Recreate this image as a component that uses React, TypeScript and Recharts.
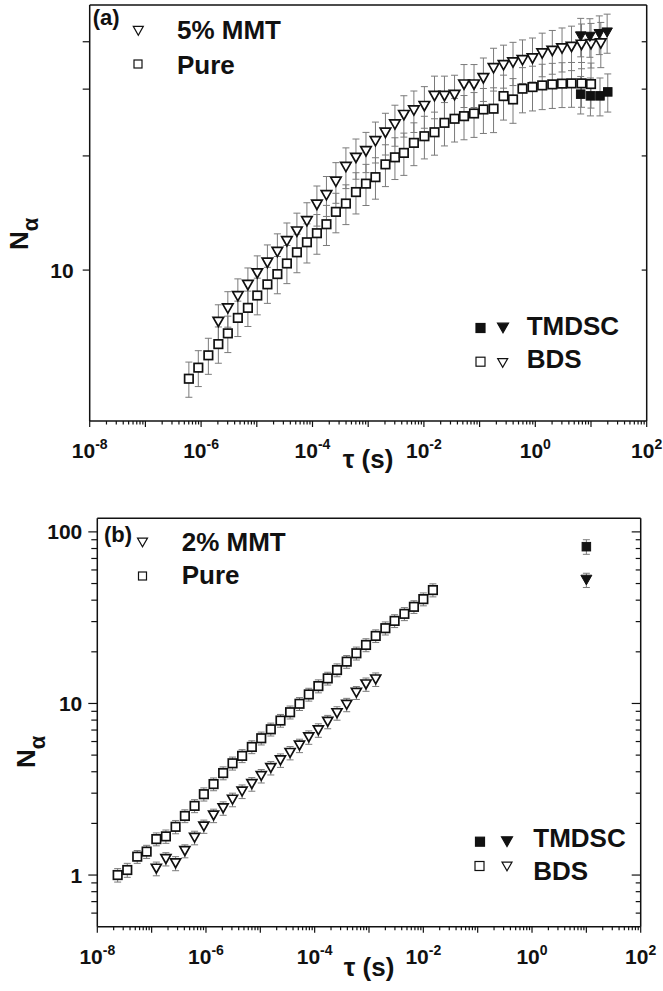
import React from "react";
import { ScatterChart, Scatter, XAxis, YAxis, ErrorBar } from "recharts";

const FONT = "'Liberation Sans', Arial, Helvetica, sans-serif";
const INK = "#111";
const BAR = "#7a7a7a";

// x axis, both panels: tau (s) on a log scale
const X_DOMAIN = [1e-8, 1e2];
const xDecades = [1e-8, 1e-7, 1e-6, 1e-5, 1e-4, 1e-3, 1e-2, 1e-1, 1, 10, 100];
const xLabelled = [1e-8, 1e-6, 1e-4, 1e-2, 1, 100];

// y axes
const yTicksA = [10, 20, 30, 40];
const yLabelsA = [10];
const yTicksB = [0.6, 0.7, 0.8, 0.9, 1, 2, 3, 4, 5, 6, 7, 8, 9, 10, 20, 30, 40, 50, 60, 70, 80, 90, 100];
const yLabelsB = [1, 10, 100];

// (a) pure, BDS
const tauPureA = [6.03e-7, 8.91e-7, 1.35e-6, 2.04e-6, 3.02e-6, 4.57e-6, 6.92e-6, 1.02e-5, 1.55e-5, 2.34e-5, 3.47e-5, 5.25e-5, 7.94e-5, 1.2e-4, 1.78e-4, 2.63e-4, 3.98e-4, 6.03e-4, 9.12e-4, 1.35e-3, 2.04e-3, 3.02e-3, 4.37e-3, 6.61e-3, 1.02e-2, 1.55e-2, 2.34e-2, 3.55e-2, 5.25e-2, 7.94e-2, 0.117, 0.178, 0.269, 0.398, 0.589, 0.891, 1.33, 2.02, 3.02, 4.47, 6.76, 10.0];
const nPureA = [5.17, 5.53, 5.96, 6.38, 6.81, 7.48, 7.95, 8.57, 9.17, 9.76, 10.41, 11.14, 11.84, 12.51, 13.21, 14.24, 14.98, 16.06, 16.9, 17.58, 19.0, 19.83, 20.37, 21.65, 22.54, 23.09, 24.45, 25.06, 25.46, 25.88, 26.52, 26.64, 28.76, 28.18, 30.08, 30.38, 30.69, 30.88, 31.02, 31.07, 31.07, 30.94];
const errPureA = [0.55, 0.6, 0.65, 0.7, 0.75, 0.8, 0.85, 0.95, 1.0, 1.1, 1.2, 1.3, 1.4, 1.5, 1.6, 1.7, 1.8, 2.0, 2.1, 2.2, 2.4, 2.5, 2.6, 2.8, 2.9, 3.0, 3.2, 3.3, 3.4, 3.5, 3.6, 3.6, 3.9, 3.8, 4.1, 4.1, 4.2, 4.2, 4.2, 4.2, 4.2, 4.2];

// (a) 5% MMT, BDS
const tauMmtA = [2.04e-6, 3.02e-6, 4.57e-6, 6.92e-6, 1.02e-5, 1.55e-5, 2.34e-5, 3.47e-5, 5.25e-5, 7.94e-5, 1.2e-4, 1.78e-4, 2.63e-4, 3.98e-4, 6.03e-4, 9.12e-4, 1.35e-3, 2.04e-3, 3.02e-3, 4.37e-3, 6.61e-3, 1.02e-2, 1.55e-2, 2.34e-2, 3.55e-2, 5.25e-2, 7.94e-2, 0.117, 0.178, 0.269, 0.398, 0.589, 0.891, 1.33, 2.02, 3.02, 4.47, 6.76, 10.0, 15.0];
const nMmtA = [7.3, 7.92, 8.53, 9.13, 9.8, 10.45, 11.16, 11.91, 12.63, 13.45, 14.86, 15.75, 17.1, 18.7, 19.76, 20.57, 21.86, 23.01, 24.21, 25.62, 26.36, 27.06, 28.76, 28.76, 28.94, 30.83, 30.83, 32.04, 34.05, 34.68, 35.26, 35.75, 36.12, 37.24, 37.84, 38.39, 38.77, 39.25, 39.41, 39.58];
const errMmtA = [0.8, 0.85, 0.95, 1.0, 1.1, 1.2, 1.3, 1.4, 1.5, 1.6, 1.8, 1.9, 2.1, 2.3, 2.4, 2.5, 2.7, 2.9, 3.0, 3.2, 3.3, 3.4, 3.7, 3.7, 3.7, 4.0, 4.0, 4.2, 4.4, 4.5, 4.6, 4.7, 4.8, 4.9, 5.0, 5.1, 5.2, 5.3, 5.3, 5.4];

// (a) TMDSC
const tauPureTmA = [6.53, 9.77, 14.5, 20.0];
const nPureTmA = [29.1, 28.8, 28.8, 29.5];
const errPureTmA = [3.3, 3.3, 3.3, 3.4];
const tauMmtTmA = [6.53, 9.55, 14.1, 19.5];
const nMmtTmA = [41.3, 41.2, 41.9, 42.3];
const errMmtTmA = [4.8, 4.8, 4.9, 5.0];

// (b) pure, BDS
const tauPureB = [2.37e-8, 3.56e-8, 5.43e-8, 8.09e-8, 1.22e-7, 1.83e-7, 2.76e-7, 4.09e-7, 6.17e-7, 9.14e-7, 1.38e-6, 2.07e-6, 3.08e-6, 4.62e-6, 6.98e-6, 1.04e-5, 1.56e-5, 2.35e-5, 3.53e-5, 5.26e-5, 7.8e-5, 1.17e-4, 1.74e-4, 2.58e-4, 3.89e-4, 5.86e-4, 8.81e-4, 1.33e-3, 2.0e-3, 2.96e-3, 4.48e-3, 6.71e-3, 1.0e-2, 1.5e-2];
const nPureB = [1.0, 1.07, 1.28, 1.37, 1.62, 1.68, 1.91, 2.21, 2.53, 2.96, 3.39, 3.93, 4.48, 4.95, 5.58, 6.27, 7.07, 7.95, 8.89, 9.96, 11.29, 12.63, 14.0, 15.66, 17.53, 19.61, 21.93, 24.75, 27.46, 30.29, 33.29, 36.58, 40.57, 45.8];
const errPureB = [0.09, 0.1, 0.11, 0.12, 0.14, 0.15, 0.17, 0.19, 0.22, 0.26, 0.29, 0.34, 0.39, 0.43, 0.48, 0.54, 0.61, 0.68, 0.77, 0.86, 0.97, 1.1, 1.2, 1.35, 1.5, 1.7, 1.9, 2.1, 2.4, 2.6, 2.9, 3.1, 3.5, 4.0];

// (b) 2% MMT, BDS
const tauMmtB = [1.22e-7, 1.83e-7, 2.76e-7, 4.09e-7, 6.17e-7, 9.14e-7, 1.38e-6, 2.07e-6, 3.08e-6, 4.62e-6, 6.98e-6, 1.04e-5, 1.56e-5, 2.35e-5, 3.53e-5, 5.26e-5, 7.8e-5, 1.17e-4, 1.74e-4, 2.58e-4, 3.89e-4, 5.86e-4, 8.81e-4, 1.33e-3];
const nMmtB = [1.09, 1.24, 1.17, 1.38, 1.65, 1.92, 2.22, 2.45, 2.75, 3.07, 3.39, 3.78, 4.21, 4.66, 5.15, 5.68, 6.35, 6.98, 7.82, 8.78, 9.83, 11.55, 12.92, 13.81];
const errMmtB = [0.1, 0.11, 0.11, 0.12, 0.15, 0.17, 0.2, 0.22, 0.25, 0.28, 0.31, 0.34, 0.38, 0.42, 0.46, 0.51, 0.57, 0.63, 0.7, 0.79, 0.88, 1.0, 1.15, 1.25];

// (b) TMDSC
const tauPureTmB = [10];
const nPureTmB = [82];
const errPureTmB = [8];
const tauMmtTmB = [10];
const nMmtTmB = [52.4];
const errMmtTmB = [5];

const zip = (t: number[], n: number[], e: number[]) => t.map((tau, i) => ({ tau, n: n[i], err: e[i] }));

const near = (v: number, list: number[]) => list.some((d) => Math.abs(v / d - 1) < 1e-6);

const xTicks = xDecades.flatMap((d, i) =>
  i === xDecades.length - 1 ? [d] : [d, d * 2, d * 3, d * 4, d * 5, d * 6, d * 7, d * 8, d * 9]
);

const axisLine = { stroke: INK, strokeWidth: 1.5 };

const makeXTick = (withLabel: boolean) => (p: any) => {
  const v = p.payload.value;
  const major = near(v, xDecades);
  const exp = Math.round(Math.log10(v));
  return (
    <g>
      <line x1={p.x} x2={p.x} y1={p.y} y2={p.y + (major ? 6 : 3.5)} stroke={INK} strokeWidth={1.2} />
      {withLabel && near(v, xLabelled) && (
        <text x={p.x} y={p.y + 37} textAnchor="middle" fontFamily={FONT} fontWeight={700} fontSize={21} fill={INK}>
          10<tspan dy={-9} fontSize={14}>{String(exp)}</tspan>
        </text>
      )}
    </g>
  );
};

const makeYTick = (labels: number[] | null, majors: number[], majorLen: number, minorLen: number, gap: number) => (p: any) => {
  const v = p.payload.value;
  const len = near(v, majors) ? majorLen : minorLen;
  return (
    <g>
      <line x1={p.x} x2={p.x - len} y1={p.y} y2={p.y} stroke={INK} strokeWidth={1.2} />
      {labels && near(v, labels) && (
        <text x={p.x - gap} y={p.y} dy="0.36em" textAnchor="end" fontFamily={FONT} fontWeight={700} fontSize={21} fill={INK}>
          {String(v)}
        </text>
      )}
    </g>
  );
};

const openSquare = (s: number) => (p: any) => (
  <rect x={p.cx - s / 2} y={p.cy - s / 2} width={s} height={s} fill="#fff" stroke={INK} strokeWidth={1.7} />
);
const filledSquare = (s: number) => (p: any) => (
  <rect x={p.cx - s / 2} y={p.cy - s / 2} width={s} height={s} fill={INK} stroke={INK} strokeWidth={1} />
);
const triPath = (x: number, y: number, w: number) => {
  const h = w * 0.88;
  return `M${x - w / 2},${y - h / 2}L${x + w / 2},${y - h / 2}L${x},${y + h / 2}Z`;
};
const openTri = (w: number) => (p: any) => (
  <path d={triPath(p.cx, p.cy, w)} fill="#fff" stroke={INK} strokeWidth={1.7} strokeLinejoin="miter" />
);
const filledTri = (w: number) => (p: any) => (
  <path d={triPath(p.cx, p.cy, w)} fill={INK} stroke={INK} strokeWidth={1} />
);

const errBar = <ErrorBar dataKey="err" direction="y" width={3.5} stroke={BAR} strokeWidth={1} />;

const txt = { fontFamily: FONT, fontWeight: 700, fill: INK } as const;

const LegendSq = ({ x, y, s, filled }: any) => (
  <rect x={x - s / 2} y={y - s / 2} width={s} height={s} fill={filled ? INK : "#fff"} stroke={INK} strokeWidth={1.2} />
);
const LegendTri = ({ x, y, w, filled }: any) => (
  <path d={triPath(x, y, w)} fill={filled ? INK : "#fff"} stroke={INK} strokeWidth={1.2} />
);

export default function App() {
  return (
    <div style={{ position: "absolute", left: 0, top: 0, width: 663, height: 991, background: "#fff" }}>
      <div style={{ position: "absolute", left: 0, top: 0 }}>
        <ScatterChart width={663} height={480} margin={{ top: 0, right: 0, bottom: 0, left: 0 }}>
          <XAxis dataKey="tau" type="number" scale="log" domain={X_DOMAIN} allowDataOverflow ticks={xTicks} interval={0}
            tickSize={0} tickMargin={0} tick={makeXTick(true)} height={59} axisLine={axisLine} />
          <XAxis xAxisId="top" orientation="top" type="number" scale="log" domain={X_DOMAIN} allowDataOverflow ticks={xTicks}
            interval={0} tickSize={0} tickMargin={0} tick={makeXTick(false)} height={5} axisLine={axisLine} />
          <YAxis dataKey="n" type="number" scale="log" domain={[4, 50]} allowDataOverflow ticks={yTicksA} interval={0}
            tickSize={0} tickMargin={0} tick={makeYTick(yLabelsA, yTicksA, 7, 7, 16)} width={89.7} axisLine={axisLine} />
          <YAxis yAxisId="right" orientation="right" type="number" scale="log" domain={[4, 50]} allowDataOverflow ticks={yTicksA}
            interval={0} tickSize={0} tickMargin={0} tick={makeYTick(null, yTicksA, 5, 5, 0)} width={16.3} axisLine={axisLine} />
          <Scatter data={zip(tauPureA, nPureA, errPureA)} shape={openSquare(8.5)} isAnimationActive={false}>{errBar}</Scatter>
          <Scatter data={zip(tauMmtA, nMmtA, errMmtA)} shape={openTri(10.5)} isAnimationActive={false}>{errBar}</Scatter>
          <Scatter data={zip(tauPureTmA, nPureTmA, errPureTmA)} shape={filledSquare(8.5)} isAnimationActive={false}>{errBar}</Scatter>
          <Scatter data={zip(tauMmtTmA, nMmtTmA, errMmtTmA)} shape={filledTri(10.5)} isAnimationActive={false}>{errBar}</Scatter>
        </ScatterChart>
      </div>

      <div style={{ position: "absolute", left: 0, top: 480 }}>
        <ScatterChart width={663} height={511} margin={{ top: 0, right: 0, bottom: 0, left: 0 }}>
          <XAxis dataKey="tau" type="number" scale="log" domain={X_DOMAIN} allowDataOverflow ticks={xTicks} interval={0}
            tickSize={0} tickMargin={0} tick={makeXTick(true)} height={64.3} axisLine={axisLine} />
          <XAxis xAxisId="top" orientation="top" type="number" scale="log" domain={X_DOMAIN} allowDataOverflow ticks={xTicks}
            interval={0} tickSize={0} tickMargin={0} tick={makeXTick(false)} height={38.3} axisLine={axisLine} />
          <YAxis dataKey="n" type="number" scale="log" domain={[0.5, 120]} allowDataOverflow ticks={yTicksB} interval={0}
            tickSize={0} tickMargin={0} tick={makeYTick(yLabelsB, yLabelsB, 9, 6, 15)} width={97.3} axisLine={axisLine} />
          <YAxis yAxisId="right" orientation="right" type="number" scale="log" domain={[0.5, 120]} allowDataOverflow ticks={yTicksB}
            interval={0} tickSize={0} tickMargin={0} tick={makeYTick(null, yLabelsB, 9, 5, 0)} width={22.3} axisLine={axisLine} />
          <Scatter data={zip(tauPureB, nPureB, errPureB)} shape={openSquare(8.5)} isAnimationActive={false}>{errBar}</Scatter>
          <Scatter data={zip(tauMmtB, nMmtB, errMmtB)} shape={openTri(10)} isAnimationActive={false}>{errBar}</Scatter>
          <Scatter data={zip(tauPureTmB, nPureTmB, errPureTmB)} shape={filledSquare(8.5)} isAnimationActive={false}>{errBar}</Scatter>
          <Scatter data={zip(tauMmtTmB, nMmtTmB, errMmtTmB)} shape={filledTri(11)} isAnimationActive={false}>{errBar}</Scatter>
        </ScatterChart>
      </div>

      <svg width={663} height={991} style={{ position: "absolute", left: 0, top: 0, pointerEvents: "none" }}>
        {/* panel (a) */}
        <text x={92.7} y={25} fontSize={22} {...txt}>(a)</text>
        <LegendTri x={138.3} y={30.8} w={10} />
        <text x={177} y={38.5} fontSize={26} {...txt}>5% MMT</text>
        <LegendSq x={138} y={64} s={8} />
        <text x={177} y={73.5} fontSize={26} {...txt}>Pure</text>
        <LegendSq x={480.5} y={328} s={9} filled />
        <LegendTri x={503} y={328} w={11} filled />
        <text x={526.7} y={335} fontSize={26} {...txt}>TMDSC</text>
        <LegendSq x={480.5} y={361.7} s={9} />
        <LegendTri x={502.7} y={363} w={10} />
        <text x={526.7} y={368} fontSize={26} {...txt}>BDS</text>
        <text x={368} y={468} fontSize={26} textAnchor="middle" {...txt}>τ (s)</text>
        <text x={28} y={250} fontSize={26} transform="rotate(-90, 28, 250)" {...txt}>
          N<tspan dy={10} fontSize={22}>α</tspan>
        </text>

        {/* panel (b) */}
        <text x={104} y={542} fontSize={22} {...txt}>(b)</text>
        <LegendTri x={142.5} y={542.5} w={10} />
        <text x={181.7} y={551} fontSize={26} {...txt}>2% MMT</text>
        <LegendSq x={142.5} y={576} s={8} />
        <text x={181.7} y={583.5} fontSize={26} {...txt}>Pure</text>
        <LegendSq x={480} y={841.7} s={9} filled />
        <LegendTri x={507} y={841.7} w={11} filled />
        <text x={533.3} y={846.7} fontSize={26} {...txt}>TMDSC</text>
        <LegendSq x={479.5} y={866} s={9} />
        <LegendTri x={507} y={866.5} w={10} />
        <text x={533.3} y={880} fontSize={26} {...txt}>BDS</text>
        <text x={369} y={976} fontSize={26} textAnchor="middle" {...txt}>τ (s)</text>
        <text x={35} y={768} fontSize={26} transform="rotate(-90, 35, 768)" {...txt}>
          N<tspan dy={10} fontSize={22}>α</tspan>
        </text>
      </svg>
    </div>
  );
}
